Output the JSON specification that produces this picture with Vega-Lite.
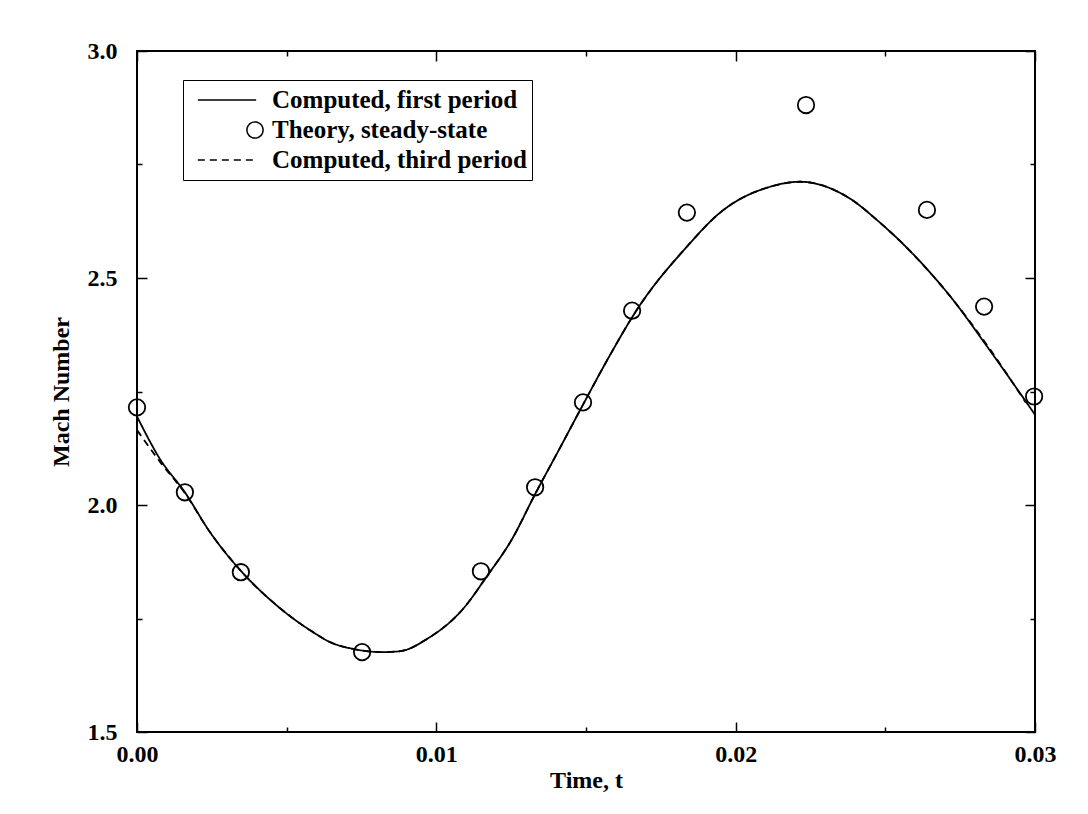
{
  "$schema": "https://vega.github.io/schema/vega-lite/v6.json",
  "width": 898,
  "height": 681,
  "padding": {"left": 49, "top": 39, "right": 10, "bottom": 10},
  "background": "white",
  "config": {
    "view": {"stroke": "black", "strokeWidth": 2},
    "font": "Liberation Serif",
    "axis": {
      "labelFont": "Liberation Serif",
      "labelFontSize": 24,
      "labelFontWeight": "bold",
      "labelColor": "black",
      "titleFont": "Liberation Serif",
      "titleFontSize": 24,
      "titleFontWeight": "bold",
      "titleColor": "black",
      "domain": false,
      "grid": false,
      "tickColor": "black",
      "tickWidth": 1.5
    }
  },
  "data": {
    "values": [
      {"t": 0.0, "M": 2.195, "series": "Computed, first period"},
      {"t": 0.00077, "M": 2.101, "series": "Computed, first period"},
      {"t": 0.0016, "M": 2.028, "series": "Computed, first period"},
      {"t": 0.00244, "M": 1.94, "series": "Computed, first period"},
      {"t": 0.00351, "M": 1.852, "series": "Computed, first period"},
      {"t": 0.00454, "M": 1.786, "series": "Computed, first period"},
      {"t": 0.00588, "M": 1.72, "series": "Computed, first period"},
      {"t": 0.00645, "M": 1.698, "series": "Computed, first period"},
      {"t": 0.00722, "M": 1.683, "series": "Computed, first period"},
      {"t": 0.00822, "M": 1.676, "series": "Computed, first period"},
      {"t": 0.00879, "M": 1.678, "series": "Computed, first period"},
      {"t": 0.00969, "M": 1.705, "series": "Computed, first period"},
      {"t": 0.01089, "M": 1.771, "series": "Computed, first period"},
      {"t": 0.01169, "M": 1.843, "series": "Computed, first period"},
      {"t": 0.01253, "M": 1.925, "series": "Computed, first period"},
      {"t": 0.0133, "M": 2.024, "series": "Computed, first period"},
      {"t": 0.0141, "M": 2.122, "series": "Computed, first period"},
      {"t": 0.0149, "M": 2.221, "series": "Computed, first period"},
      {"t": 0.0158, "M": 2.33, "series": "Computed, first period"},
      {"t": 0.0167, "M": 2.43, "series": "Computed, first period"},
      {"t": 0.01837, "M": 2.569, "series": "Computed, first period"},
      {"t": 0.01948, "M": 2.644, "series": "Computed, first period"},
      {"t": 0.02115, "M": 2.701, "series": "Computed, first period"},
      {"t": 0.02215, "M": 2.712, "series": "Computed, first period"},
      {"t": 0.02372, "M": 2.679, "series": "Computed, first period"},
      {"t": 0.02482, "M": 2.622, "series": "Computed, first period"},
      {"t": 0.02559, "M": 2.575, "series": "Computed, first period"},
      {"t": 0.02726, "M": 2.452, "series": "Computed, first period"},
      {"t": 0.0284, "M": 2.349, "series": "Computed, first period"},
      {"t": 0.03, "M": 2.199, "series": "Computed, first period"},
      {"t": 0.0, "M": 2.165, "series": "Computed, third period"},
      {"t": 0.00077, "M": 2.095, "series": "Computed, third period"},
      {"t": 0.0016, "M": 2.026, "series": "Computed, third period"},
      {"t": 0.00244, "M": 1.94, "series": "Computed, third period"},
      {"t": 0.00351, "M": 1.852, "series": "Computed, third period"},
      {"t": 0.00454, "M": 1.786, "series": "Computed, third period"},
      {"t": 0.00588, "M": 1.72, "series": "Computed, third period"},
      {"t": 0.00645, "M": 1.698, "series": "Computed, third period"},
      {"t": 0.00722, "M": 1.683, "series": "Computed, third period"},
      {"t": 0.00822, "M": 1.676, "series": "Computed, third period"},
      {"t": 0.00879, "M": 1.678, "series": "Computed, third period"},
      {"t": 0.00969, "M": 1.705, "series": "Computed, third period"},
      {"t": 0.01089, "M": 1.771, "series": "Computed, third period"},
      {"t": 0.01169, "M": 1.843, "series": "Computed, third period"},
      {"t": 0.01253, "M": 1.925, "series": "Computed, third period"},
      {"t": 0.0133, "M": 2.024, "series": "Computed, third period"},
      {"t": 0.0141, "M": 2.122, "series": "Computed, third period"},
      {"t": 0.0149, "M": 2.221, "series": "Computed, third period"},
      {"t": 0.0158, "M": 2.33, "series": "Computed, third period"},
      {"t": 0.0167, "M": 2.43, "series": "Computed, third period"},
      {"t": 0.01837, "M": 2.569, "series": "Computed, third period"},
      {"t": 0.01948, "M": 2.644, "series": "Computed, third period"},
      {"t": 0.02115, "M": 2.701, "series": "Computed, third period"},
      {"t": 0.02215, "M": 2.712, "series": "Computed, third period"},
      {"t": 0.02372, "M": 2.679, "series": "Computed, third period"},
      {"t": 0.02482, "M": 2.622, "series": "Computed, third period"},
      {"t": 0.02559, "M": 2.575, "series": "Computed, third period"},
      {"t": 0.02726, "M": 2.452, "series": "Computed, third period"},
      {"t": 0.0284, "M": 2.352, "series": "Computed, third period"},
      {"t": 0.0297, "M": 2.225, "series": "Computed, third period"},
      {"t": 0.0, "M": 2.215, "series": "Theory, steady-state"},
      {"t": 0.0016, "M": 2.028, "series": "Theory, steady-state"},
      {"t": 0.00347, "M": 1.852, "series": "Theory, steady-state"},
      {"t": 0.00752, "M": 1.676, "series": "Theory, steady-state"},
      {"t": 0.01149, "M": 1.854, "series": "Theory, steady-state"},
      {"t": 0.0133, "M": 2.039, "series": "Theory, steady-state"},
      {"t": 0.0149, "M": 2.226, "series": "Theory, steady-state"},
      {"t": 0.01654, "M": 2.428, "series": "Theory, steady-state"},
      {"t": 0.01837, "M": 2.644, "series": "Theory, steady-state"},
      {"t": 0.02235, "M": 2.881, "series": "Theory, steady-state"},
      {"t": 0.02639, "M": 2.65, "series": "Theory, steady-state"},
      {"t": 0.0283, "M": 2.437, "series": "Theory, steady-state"},
      {"t": 0.02997, "M": 2.239, "series": "Theory, steady-state"}
    ]
  },
  "layer": [
    {
      "layer": [
        {
          "transform": [{"filter": "datum.series !== 'Theory, steady-state'"}],
          "mark": {"type": "line", "interpolate": "monotone", "color": "black", "strokeWidth": 1.8},
          "encoding": {
            "x": {
              "field": "t", "type": "quantitative",
              "scale": {"domain": [0, 0.03], "nice": false, "zero": false},
              "axis": {
                "orient": "bottom",
                "title": "Time, t",
                "values": [0, 0.005, 0.01, 0.015, 0.02, 0.025, 0.03],
                "labelExpr": "abs(datum.value*100 - round(datum.value*100)) < 0.01 ? format(datum.value, '.2f') : ''",
                "tickSize": {"condition": {"test": "abs(datum.value*100 - round(datum.value*100)) < 0.01", "value": -10}, "value": -5},
                "labelPadding": 20,
                "titlePadding": 2,
                "labelFlush": false
              }
            },
            "y": {
              "field": "M", "type": "quantitative",
              "scale": {"domain": [1.5, 3.0], "nice": false, "zero": false},
              "axis": {
                "orient": "left",
                "title": "Mach Number",
                "values": [1.5, 1.75, 2.0, 2.25, 2.5, 2.75, 3.0],
                "labelExpr": "abs(datum.value*2 - round(datum.value*2)) < 0.01 ? format(datum.value, '.1f') : ''",
                "tickSize": {"condition": {"test": "abs(datum.value*2 - round(datum.value*2)) < 0.01", "value": -10}, "value": -5},
                "labelPadding": 30,
                "titlePadding": 14,
                "labelFlush": false
              }
            },
            "strokeDash": {
              "field": "series", "type": "nominal",
              "scale": {
                "domain": ["Computed, first period", "Theory, steady-state", "Computed, third period"],
                "range": [[1, 0], [1, 0], [7, 5]]
              },
              "legend": {
                "orient": "none",
                "legendX": 46,
                "legendY": 29,
                "title": null,
                "strokeColor": "black",
                "fillColor": "white",
                "padding": 5,
                "labelFont": "Liberation Serif",
                "labelFontSize": 25,
                "labelFontWeight": "bold",
                "labelColor": "black",
                "labelLimit": 400,
                "symbolType": "stroke",
                "symbolStrokeColor": "black",
                "symbolStrokeWidth": 1.5,
                "symbolSize": 900,
                "symbolOffset": 8,
                "labelOffset": 16,
                "rowPadding": 0,
                "clipHeight": 30,
                "encode": {
                  "symbols": {
                    "update": {
                      "shape": {"signal": "datum.value === 'Theory, steady-state' ? 'circle' : 'stroke'"},
                      "size": {"signal": "datum.value === 'Theory, steady-state' ? 260 : 3400"},
                      "strokeDash": {"signal": "datum.value === 'Computed, third period' ? [7,5] : [1,0]"},
                      "x": {"signal": "datum.value === 'Theory, steady-state' ? 67 : 39"},
                      "fill": {"value": "transparent"},
                      "stroke": {"value": "black"},
                      "opacity": {"value": 1}
                    }
                  }
                }
              }
            }
          }
        },
        {
          "transform": [{"filter": "datum.series === 'Theory, steady-state'"}],
          "mark": {"type": "point", "shape": "circle", "filled": false, "color": "black", "opacity": 1, "strokeWidth": 1.8, "size": 270},
          "encoding": {
            "x": {"field": "t", "type": "quantitative"},
            "y": {"field": "M", "type": "quantitative"}
          }
        }
      ]
    },
    {
      "mark": {"type": "point", "opacity": 0},
      "encoding": {
        "x": {
          "field": "t", "type": "quantitative",
          "axis": {
            "orient": "top", "title": null, "labels": false,
            "values": [0, 0.005, 0.01, 0.015, 0.02, 0.025, 0.03],
            "tickSize": {"condition": {"test": "abs(datum.value*100 - round(datum.value*100)) < 0.01", "value": -10}, "value": -5}
          }
        },
        "y": {
          "field": "M", "type": "quantitative",
          "axis": {
            "orient": "right", "title": null, "labels": false,
            "values": [1.5, 1.75, 2.0, 2.25, 2.5, 2.75, 3.0],
            "tickSize": {"condition": {"test": "abs(datum.value*2 - round(datum.value*2)) < 0.01", "value": -10}, "value": -5}
          }
        }
      }
    }
  ],
  "resolve": {"axis": {"x": "independent", "y": "independent"}}
}
